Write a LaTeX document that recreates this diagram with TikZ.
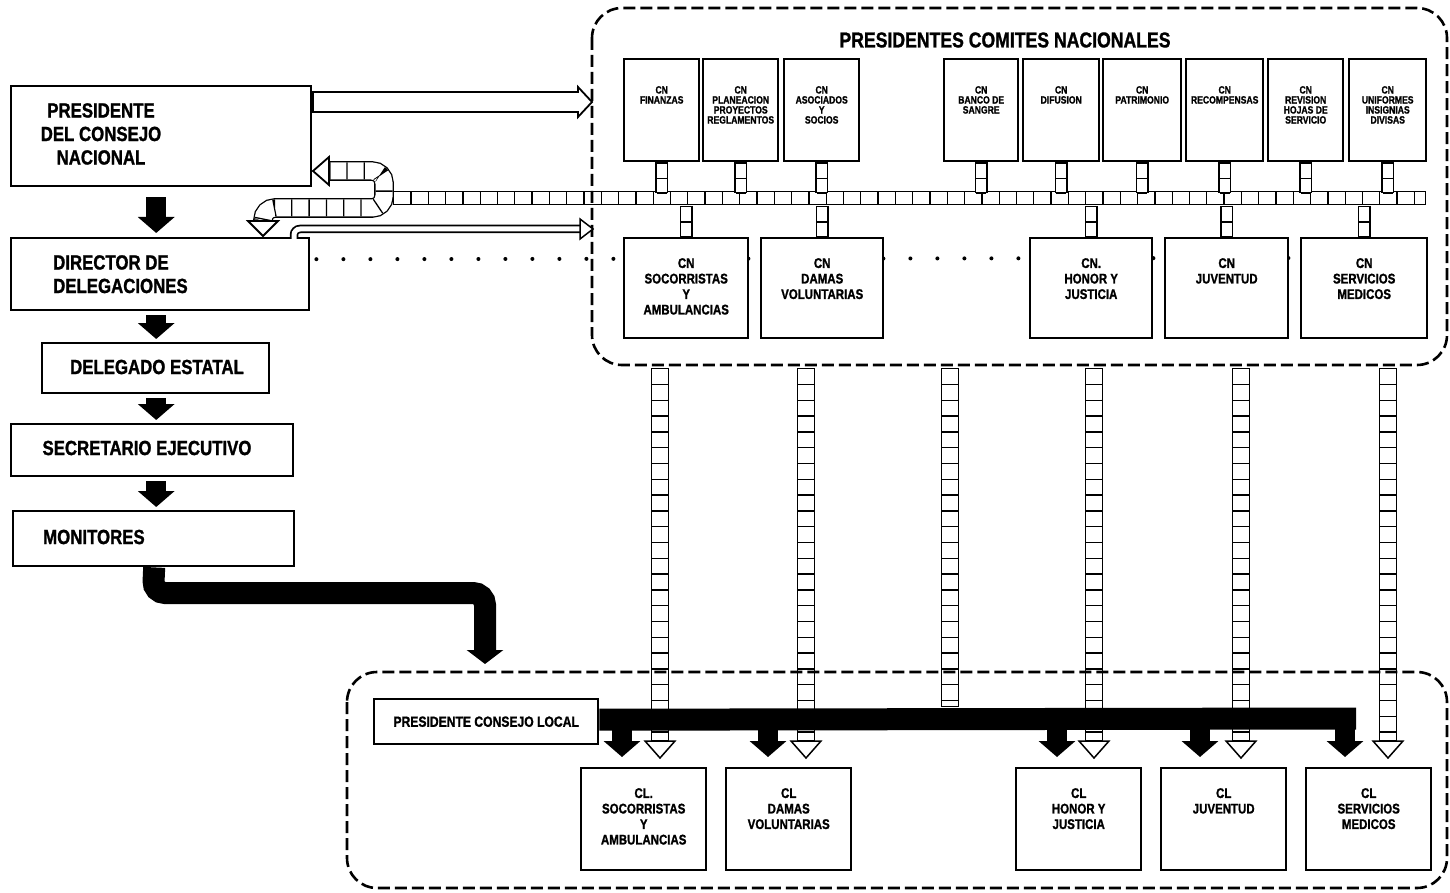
\documentclass[tikz,border=0pt]{standalone}
\usepackage{fontspec}
\setmainfont{Liberation Sans}[FakeStretch=0.82,BoldFeatures={FakeBold=1.2}]
\usetikzlibrary{arrows.meta,calc}
\newcommand\drawpipe[3]{%
  \draw[line width=#1pt+2.6pt] #3;
  \draw[white,line width=#1pt,shorten <=1.3pt,shorten >=1.3pt] #3;
  \draw[line width=#1pt,dash pattern=on 1.3pt off #2pt] #3;}
\newcommand\headdown[1]{\draw[line width=1.5pt,fill=white] ($(#1)+(-15,0)$) -- ($(#1)+(15,0)$) -- ($(#1)+(0,17)$) -- cycle;}
\begin{document}
\begin{tikzpicture}[x=1pt,y=-1pt,
  box/.style={draw,line width=2.4pt,fill=white,inner sep=0pt,anchor=north west},
  tiny/.style={font=\fontsize{10.5}{10}\selectfont\bfseries,align=center,inner sep=0pt,anchor=north},
  mid/.style={font=\fontsize{14}{15.5}\selectfont\bfseries,align=center,inner sep=0pt,anchor=north},
  big/.style={font=\fontsize{20.5}{23.5}\selectfont\bfseries,inner sep=0pt},
  blk/.style={line width=20pt,-{Triangle[width=36pt,length=16pt]}},
  dashbox/.style={line width=2.6pt,dash pattern=on 12pt off 5pt,rounded corners=30pt},
  hollow/.style={line width=1.8pt,fill=white,line join=miter}]
\useasboundingbox (0,0) rectangle (1450,893);
\fill[white] (0,0) rectangle (1450,893);

% ---------- left column ----------
\node[box,minimum width=300pt,minimum height=100pt] (pres) at (10,85) {};
\node[box,minimum width=298pt,minimum height=72pt] (dir) at (10,237) {};
\node[box,minimum width=227pt,minimum height=50pt] (dele) at (41,342) {};
\node[box,minimum width=282pt,minimum height=52pt] (secr) at (10,423) {};
\node[box,minimum width=281pt,minimum height=55pt] (moni) at (12,510) {};

% dotted line from director
\coordinate (dotend) at (1300,258);
\draw[line width=4pt,dash pattern=on 0pt off 27pt,line cap=round] ($(dir.east)+(6,-15)$) -- (dotend);

% ---------- pipes ----------
\coordinate (cU) at (329,171);
\coordinate (cD) at (263,221);
\coordinate (pipeL) at (393,198);
\coordinate (pipeR) at (1426,198);
\drawpipe{12}{16}{(pipeL) -- (pipeR)}
\drawpipe{17}{16}{[rounded corners=12pt] (cU) -- (384,171) -- (384,208) -- (263,208) -- (cD)}

% top row boxes
\node[box,minimum width=75pt,minimum height=102pt] (f1) at (623,58) {};
\node[box,minimum width=75pt,minimum height=102pt] (f2) at (702,58) {};
\node[box,minimum width=75pt,minimum height=102pt] (f3) at (783,58) {};
\node[box,minimum width=74pt,minimum height=102pt] (f4) at (943,58) {};
\node[box,minimum width=76pt,minimum height=102pt] (f5) at (1022,58) {};
\node[box,minimum width=78pt,minimum height=102pt] (f6) at (1102,58) {};
\node[box,minimum width=77pt,minimum height=102pt] (f7) at (1185,58) {};
\node[box,minimum width=75pt,minimum height=102pt] (f8) at (1267,58) {};
\node[box,minimum width=77pt,minimum height=102pt] (f9) at (1348,58) {};
% middle row boxes
\node[box,minimum width=124pt,minimum height=100pt] (m1) at (623,237) {};
\node[box,minimum width=122pt,minimum height=100pt] (m2) at (760,237) {};
\node[box,minimum width=122pt,minimum height=100pt] (m3) at (1029,237) {};
\node[box,minimum width=123pt,minimum height=100pt] (m4) at (1164,237) {};
\node[box,minimum width=126pt,minimum height=100pt] (m5) at (1300,237) {};

\foreach \b in {f1,f2,f3,f4,f5,f6,f7,f8,f9}{
  \drawpipe{10}{14}{(\b.south) -- ($(\b.south)+(0,31)$)}
}
\foreach \b in {m1,m2,m3,m4,m5}{
  \drawpipe{10}{14}{($(\b.north)+(0,-31)$) -- (\b.north)}
}

% long vertical pipes
\foreach \x/\e in {660/741,806/741,950/707,1094/741,1241/741,1388/741}{
  \coordinate (vt\x) at (\x,368);
  \coordinate (vb\x) at (\x,\e);
  \drawpipe{15.5}{14.5}{(vt\x) -- (vb\x)}
}

% bottom row boxes
\node[box,minimum width=125pt,minimum height=102pt] (b1) at (580,767) {};
\node[box,minimum width=125pt,minimum height=102pt] (b2) at (725,767) {};
\node[box,minimum width=125pt,minimum height=102pt] (b3) at (1015,767) {};
\node[box,minimum width=125pt,minimum height=102pt] (b4) at (1160,767) {};
\node[box,minimum width=125pt,minimum height=102pt] (b5) at (1305,767) {};
\node[box,minimum width=224pt,minimum height=45pt] (local) at (373,698) {};

% dashed groups
\draw[dashbox] (592,8) rectangle (1447,365);
\draw[dashbox] (347,672) rectangle (1447,888);

% black bar and arrows
\coordinate (barR) at (1356,718.5);
\draw[line width=22pt] ($(local.east)+(0,-2)$) -- (barR);
\foreach \x in {622,768,1057,1200,1345}{
  \coordinate (ba\x) at (\x,722);
  \coordinate (bt\x) at (\x,757);
  \draw[blk] (ba\x) -- (bt\x);
}
% hollow pipe heads
\foreach \x in {660,806,1094,1241,1388}{
  \headdown{vb\x}
}

% left black arrows
\draw[blk] ($(pres.south)+(-5,10)$) -- ($(dir.north)+(-4,-4)$);
\draw[blk] ($(dir.south)+(-4,4)$) -- ($(dele.north)+(0.5,-3)$);
\draw[blk] ($(dele.south)+(0.5,4)$) -- ($(secr.north)+(4,-3)$);
\draw[blk] ($(secr.south)+(4,4)$) -- ($(moni.north)+(2.5,-3)$);
% elbow arrow from monitores
\coordinate (elb) at (485,664);
\draw[line width=22pt,-{Triangle[width=36pt,length=14pt]},rounded corners=12pt]
  ($(moni.south)+(0.5,0)$) -- (153,593) -- (485,593) -- (elb);

% C-shape heads
\draw[hollow] ($(cU)+(0,-14)$) -- ($(cU)+(0,14)$) -- ($(cU)+(-16,0)$) -- cycle;
\draw[hollow] ($(cD)+(-15,0)$) -- ($(cD)+(15,0)$) -- ($(cD)+(0,15)$) -- cycle;

% hollow arrow presidente -> comites
\coordinate (pa) at (313,102);
\coordinate (pb) at (592,102);
\draw[hollow] ($(pa)+(0,-10)$) -- ($(pb)+(-14,-10)$) -- ($(pb)+(-14,-15)$) -- (pb)
  -- ($(pb)+(-14,15)$) -- ($(pb)+(-14,10)$) -- ($(pa)+(0,10)$) -- cycle;

% thin hollow arrow director -> comites
\coordinate (ta) at (294,239);
\coordinate (tb) at (580,229);
\draw[line width=8.5pt,rounded corners=6pt] (ta) |- (tb);
\draw[white,line width=5pt,rounded corners=6pt] (ta) |- (tb);
\draw[hollow,line width=1.5pt] ($(tb)+(0,-10)$) -- ($(tb)+(13,0)$) -- ($(tb)+(0,10)$) -- cycle;

% ---------- texts ----------
\node[big,align=center,anchor=north] (prest) at (101,103) {PRESIDENTE\\DEL CONSEJO\\NACIONAL};
\node[big,align=left,anchor=north west] (dirt) at (53,255) {DIRECTOR DE\\DELEGACIONES};
\node[big] (delet) at (157,367) {DELEGADO ESTATAL};
\node[big] (secrt) at (147,448) {SECRETARIO EJECUTIVO};
\node[big,anchor=west] (monit) at (43,537) {MONITORES};
\node[font=\fontsize{21.5}{24}\selectfont\bfseries,inner sep=0pt] (title) at (1005,40) {PRESIDENTES COMITES NACIONALES};
\node[font=\fontsize{14.8}{16}\selectfont\bfseries,inner sep=0pt] (localt) at (local) {PRESIDENTE CONSEJO LOCAL};

\node[tiny] (f1t) at ($(f1.north)+(0,28)$) {CN\\FINANZAS};
\node[tiny] (f2t) at ($(f2.north)+(0,28)$) {CN\\PLANEACION\\PROYECTOS\\REGLAMENTOS};
\node[tiny] (f3t) at ($(f3.north)+(0,28)$) {CN\\ASOCIADOS\\Y\\SOCIOS};
\node[tiny] (f4t) at ($(f4.north)+(0,28)$) {CN\\BANCO DE\\SANGRE};
\node[tiny] (f5t) at ($(f5.north)+(0,28)$) {CN\\DIFUSION};
\node[tiny] (f6t) at ($(f6.north)+(0,28)$) {CN\\PATRIMONIO};
\node[tiny] (f7t) at ($(f7.north)+(0,28)$) {CN\\RECOMPENSAS};
\node[tiny] (f8t) at ($(f8.north)+(0,28)$) {CN\\REVISION\\HOJAS DE\\SERVICIO};
\node[tiny] (f9t) at ($(f9.north)+(0,28)$) {CN\\UNIFORMES\\INSIGNIAS\\DIVISAS};

\node[mid] (m1t) at ($(m1.north)+(0,21)$) {CN\\SOCORRISTAS\\Y\\AMBULANCIAS};
\node[mid] (m2t) at ($(m2.north)+(0,21)$) {CN\\DAMAS\\VOLUNTARIAS};
\node[mid] (m3t) at ($(m3.north)+(0,21)$) {CN.\\HONOR Y\\JUSTICIA};
\node[mid] (m4t) at ($(m4.north)+(0,21)$) {CN\\JUVENTUD};
\node[mid] (m5t) at ($(m5.north)+(0,21)$) {CN\\SERVICIOS\\MEDICOS};

\node[mid] (b1t) at ($(b1.north)+(0,21)$) {CL.\\SOCORRISTAS\\Y\\AMBULANCIAS};
\node[mid] (b2t) at ($(b2.north)+(0,21)$) {CL\\DAMAS\\VOLUNTARIAS};
\node[mid] (b3t) at ($(b3.north)+(0,21)$) {CL\\HONOR Y\\JUSTICIA};
\node[mid] (b4t) at ($(b4.north)+(0,21)$) {CL\\JUVENTUD};
\node[mid] (b5t) at ($(b5.north)+(0,21)$) {CL\\SERVICIOS\\MEDICOS};
\end{tikzpicture}
\end{document}
